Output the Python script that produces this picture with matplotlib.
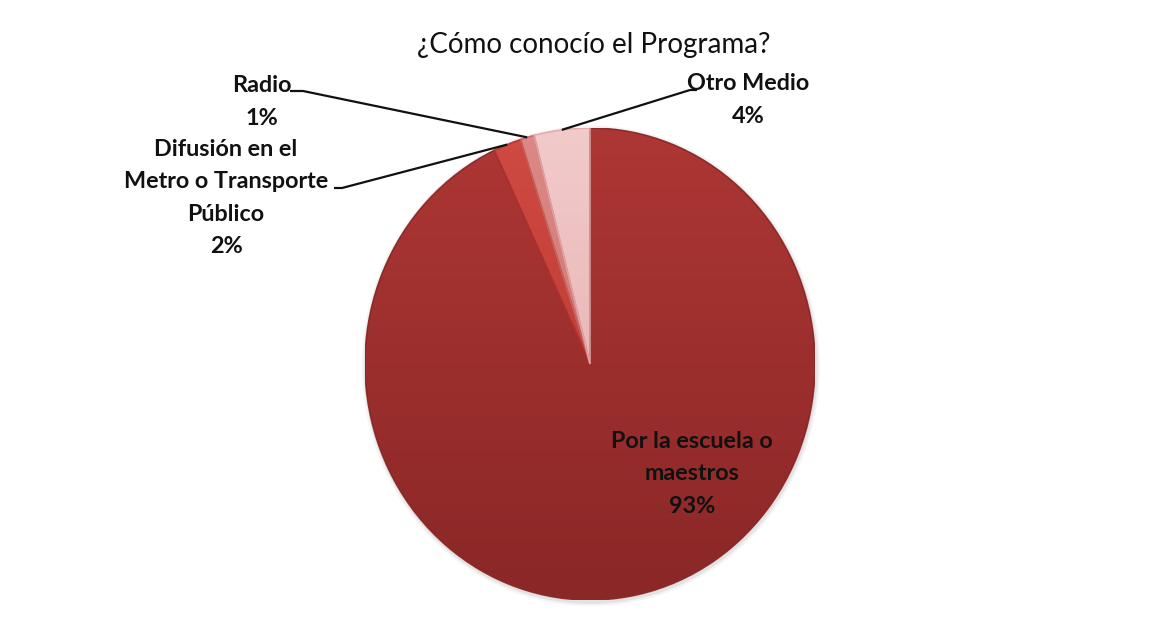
import numpy as np
import matplotlib
matplotlib.use("Agg")
import matplotlib.pyplot as plt
from matplotlib.patches import Wedge, Ellipse
from matplotlib.colors import to_rgb

# Survey answers: how respondents learned about the programme
categories = ["Por la escuela o\nmaestros",
              "Difusión en el\nMetro o Transporte\nPúblico",
              "Radio",
              "Otro Medio"]
shares = [93, 2, 1, 4]
title = "¿Cómo conocío el Programa?"

# top / bottom gradient colours of each slice
top_colors = ["#AD3734", "#CF4A42", "#DC8A86", "#F2CACA"]
bottom_colors = ["#8A2727", "#B3322E", "#C66462", "#E2A8A8"]

plt.rcParams["font.family"] = ["Lato", "DejaVu Sans"]

W, H = 1172, 638
fig = plt.figure(figsize=(W / 100, H / 100), dpi=100)
fig.patch.set_facecolor("white")

# pie centre and radii in pixels (slightly taller than wide)
cx, cy, rx, ry = 590, 364, 225, 236
ax = fig.add_axes([(cx - rx) / W, (H - cy - ry) / H, 2 * rx / W, 2 * ry / H])

wedges, _ = ax.pie(shares, startangle=90, counterclock=False, radius=1.0,
                   wedgeprops=dict(linewidth=0.6, edgecolor="none"))
ax.set_aspect("auto")
ax.axis("off")


def gradient(c_top, c_bot, n=256):
    t = np.linspace(0, 1, n)[:, None]
    a = np.array(to_rgb(c_top))
    b = np.array(to_rgb(c_bot))
    img = a[None, :] * (1 - t[..., None]) + b[None, :] * t[..., None]
    return np.repeat(img, 4, axis=1)


# faint soft glow under the pie
for k, al in [(1.018, 0.10), (1.009, 0.18)]:
    ax.add_patch(Ellipse((0.004, -0.008), 2 * k, 2 * k, facecolor="#9a9a9a",
                         edgecolor="none", zorder=0.5, clip_on=False, alpha=al))

for w, ct, cb in zip(wedges, top_colors, bottom_colors):
    w.set_facecolor(cb)
    w.set_zorder(1)
    w.set_clip_on(False)
    im = ax.imshow(gradient(ct, cb), extent=(-1, 1, -1, 1), origin="upper",
                   aspect="auto", zorder=1.5, interpolation="bilinear")
    im.set_clip_path(w)
    # faint rim giving the slice a bevelled look
    rim = Wedge(w.center, w.r, w.theta1, w.theta2, facecolor="none",
                edgecolor=cb, linewidth=1.2, zorder=2, alpha=0.9)
    ax.add_patch(rim)

ax.set_xlim(-1, 1)
ax.set_ylim(-1, 1)

# mid-angles of each slice, in degrees
bounds = 90 - 360 * np.concatenate([[0], np.cumsum(shares)]) / sum(shares)
mids = (bounds[:-1] + bounds[1:]) / 2


def px(x, y):
    return ((x - cx) / rx, (cy - y) / ry)


label_font = dict(fontsize=16.8, fontweight="bold", color="#111111",
                  ha="center", va="center", linespacing=1.66)

texts = [f"{c}\n{v}%" for c, v in zip(categories, shares)]

# data label anchors (pixels) and leader-line elbows
label_xy = [(692, 474), (226, 198), (262, 102), (748, 100)]
elbows = [None, ((342, 188), (334, 188)), ((303, 91), (290, 91)), ((690, 90), (697, 90))]

for i, (t, (lx, ly)) in enumerate(zip(texts, label_xy)):
    ax.text(*px(lx, ly), t, **label_font, zorder=5, clip_on=False)
    if elbows[i] is not None:
        a = np.deg2rad(mids[i])
        ex, ey = np.cos(a), np.sin(a)
        (x1, y1), (x2, y2) = elbows[i]
        p1 = px(x1, y1)
        p2 = px(x2, y2)
        ax.plot([ex, p1[0], p2[0]], [ey, p1[1], p2[1]], color="#111111",
                linewidth=1.6, zorder=4, clip_on=False, solid_capstyle="butt")

fig.text(594 / W, 1 - 45 / H, title, ha="center", va="center",
         fontsize=20, color="#111111")

fig.savefig("out.png", dpi=100, facecolor="white")
